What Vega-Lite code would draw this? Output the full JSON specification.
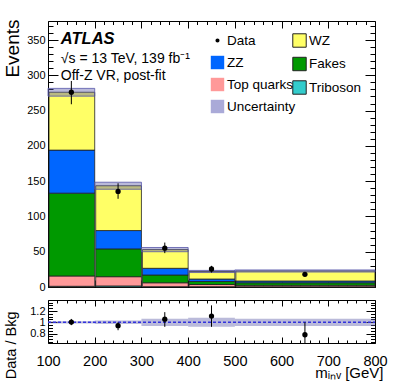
{
  "$schema": "https://vega.github.io/schema/vega-lite/v6.json",
  "background": "white",
  "padding": {"left": 2, "top": 18, "right": 5, "bottom": 2},
  "spacing": 6,
  "config": {
    "view": {"stroke": "black", "strokeWidth": 1},
    "font": "Liberation Sans",
    "axis": {"domain": false, "grid": false, "labelFont": "Liberation Sans", "titleFont": "Liberation Sans", "labelColor": "black", "titleColor": "black", "tickColor": "black", "tickWidth": 1, "titleFontWeight": "normal", "labelFlush": false, "labels": false, "title": null}
  },
  "datasets": {
    "stack": [
      {"lo": 100, "hi": 200, "proc": "Triboson", "ord": 1, "val": 1},
      {"lo": 100, "hi": 200, "proc": "Top quarks", "ord": 2, "val": 14.6},
      {"lo": 100, "hi": 200, "proc": "Fakes", "ord": 3, "val": 117.4},
      {"lo": 100, "hi": 200, "proc": "ZZ", "ord": 4, "val": 61},
      {"lo": 100, "hi": 200, "proc": "WZ", "ord": 5, "val": 82},
      {"lo": 200, "hi": 300, "proc": "Triboson", "ord": 1, "val": 1.5},
      {"lo": 200, "hi": 300, "proc": "Top quarks", "ord": 2, "val": 13.1},
      {"lo": 200, "hi": 300, "proc": "Fakes", "ord": 3, "val": 39.4},
      {"lo": 200, "hi": 300, "proc": "ZZ", "ord": 4, "val": 26},
      {"lo": 200, "hi": 300, "proc": "WZ", "ord": 5, "val": 63.5},
      {"lo": 300, "hi": 400, "proc": "Triboson", "ord": 1, "val": 0.5},
      {"lo": 300, "hi": 400, "proc": "Top quarks", "ord": 2, "val": 5.5},
      {"lo": 300, "hi": 400, "proc": "Fakes", "ord": 3, "val": 11},
      {"lo": 300, "hi": 400, "proc": "ZZ", "ord": 4, "val": 9.5},
      {"lo": 300, "hi": 400, "proc": "WZ", "ord": 5, "val": 26.5},
      {"lo": 400, "hi": 500, "proc": "Triboson", "ord": 1, "val": 0.5},
      {"lo": 400, "hi": 500, "proc": "Top quarks", "ord": 2, "val": 3},
      {"lo": 400, "hi": 500, "proc": "Fakes", "ord": 3, "val": 4.3},
      {"lo": 400, "hi": 500, "proc": "ZZ", "ord": 4, "val": 3.5},
      {"lo": 400, "hi": 500, "proc": "WZ", "ord": 5, "val": 10.7},
      {"lo": 500, "hi": 800, "proc": "Triboson", "ord": 1, "val": 0.4},
      {"lo": 500, "hi": 800, "proc": "Top quarks", "ord": 2, "val": 2.0},
      {"lo": 500, "hi": 800, "proc": "Fakes", "ord": 3, "val": 3.6},
      {"lo": 500, "hi": 800, "proc": "ZZ", "ord": 4, "val": 2.5},
      {"lo": 500, "hi": 800, "proc": "WZ", "ord": 5, "val": 14.2}
    ],
    "band": [
      {"lo": 100, "hi": 200, "dn": 270.5, "up": 281.5},
      {"lo": 200, "hi": 300, "dn": 138.5, "up": 148.5},
      {"lo": 300, "hi": 400, "dn": 50, "up": 56},
      {"lo": 400, "hi": 500, "dn": 20.5, "up": 23.5},
      {"lo": 500, "hi": 800, "dn": 21.2, "up": 24.2}
    ],
    "obs": [
      {"x": 150, "y": 276, "dn": 259, "up": 292},
      {"x": 250, "y": 135.5, "dn": 125, "up": 147},
      {"x": 350, "y": 55, "dn": 48, "up": 63},
      {"x": 450, "y": 25.5, "dn": 20.5, "up": 30},
      {"x": 650, "y": 18, "dn": 16.5, "up": 19.5}
    ],
    "rband": [
      {"lo": 100, "hi": 200, "dn": 0.98, "up": 1.02},
      {"lo": 200, "hi": 300, "dn": 0.97, "up": 1.03},
      {"lo": 300, "hi": 400, "dn": 0.935, "up": 1.065},
      {"lo": 400, "hi": 500, "dn": 0.92, "up": 1.08},
      {"lo": 500, "hi": 800, "dn": 0.935, "up": 1.065}
    ],
    "ratio": [
      {"x": 150, "y": 1.005, "dn": 0.95, "up": 1.06},
      {"x": 250, "y": 0.94, "dn": 0.86, "up": 1.0},
      {"x": 350, "y": 1.055, "dn": 0.92, "up": 1.18},
      {"x": 450, "y": 1.11, "dn": 0.92, "up": 1.3},
      {"x": 650, "y": 0.78, "dn": 0.55, "up": 1.0}
    ],
    "cats": [
      {"cat": "Data"},
      {"cat": "ZZ"},
      {"cat": "Top quarks"},
      {"cat": "Uncertainty"}
    ]
  },
  "vconcat": [
    {
      "width": 327,
      "height": 266,
      "layer": [
        {
          "data": {"name": "stack"},
          "mark": {"type": "bar", "stroke": "#222222", "strokeWidth": 0.8},
          "encoding": {
            "x": {"field": "lo", "type": "quantitative", "bin": "binned", "scale": {"domain": [100, 800], "nice": false, "zero": false},
              "axis": {"orient": "bottom", "values": [100, 200, 300, 400, 500, 600, 700, 800], "tickSize": -7}},
            "x2": {"field": "hi"},
            "y": {"field": "val", "type": "quantitative", "stack": "zero", "scale": {"domain": [0, 377], "nice": false},
              "axis": {"orient": "left", "labels": true, "title": "Events", "titleFontSize": 19, "titleX": -36, "titleY": -2, "titleAlign": "right", "titleAngle": 270, "titleBaseline": "middle", "labelFontSize": 11,
                "values": [0, 50, 100, 150, 200, 250, 300, 350], "tickSize": -10, "labelPadding": 13}},
            "color": {"field": "proc", "type": "nominal",
              "scale": {"domain": ["WZ", "Fakes", "Triboson", "ZZ", "Top quarks"], "range": ["#ffff66", "#009900", "#33cccc", "#0066ff", "#ff9999"]},
              "legend": {"orient": "none", "legendX": 244, "legendY": 12, "values": ["WZ", "Fakes", "Triboson"], "direction": "vertical", "gridAlign": "all", "title": null, "padding": 0, "symbolSize": 180, "symbolType": "square", "labelFontSize": 13.5, "labelFont": "Liberation Sans", "labelColor": "black", "labelOffset": 2, "rowPadding": 4.5, "symbolStrokeWidth": 1}},
            "order": {"field": "ord", "type": "quantitative"}
          }
        },
        {
          "data": {"name": "band"},
          "mark": {"type": "rect", "fill": "#5a5aa8", "fillOpacity": 0.42, "stroke": "#5555aa", "strokeWidth": 0.8},
          "encoding": {
            "x": {"field": "lo", "type": "quantitative", "axis": {"orient": "top", "values": [100, 200, 300, 400, 500, 600, 700, 800], "tickSize": -7}},
            "x2": {"field": "hi"},
            "y": {"field": "dn", "type": "quantitative", "axis": {"orient": "right", "values": [0, 50, 100, 150, 200, 250, 300, 350], "tickSize": -10}},
            "y2": {"field": "up"}
          }
        },
        {
          "data": {"name": "obs"},
          "mark": {"type": "rule", "color": "black", "strokeWidth": 1},
          "encoding": {
            "x": {"field": "x", "type": "quantitative", "axis": {"orient": "bottom", "values": [120,140,160,180,220,240,260,280,320,340,360,380,420,440,460,480,520,540,560,580,620,640,660,680,720,740,760,780], "tickSize": -3.5}},
            "y": {"field": "dn", "type": "quantitative", "axis": {"orient": "left", "values": [10,20,30,40,60,70,80,90,110,120,130,140,160,170,180,190,210,220,230,240,260,270,280,290,310,320,330,340,360,370], "tickSize": -5}},
            "y2": {"field": "up"}
          }
        },
        {
          "data": {"name": "obs"},
          "mark": {"type": "point", "filled": true, "color": "black", "size": 28, "opacity": 1},
          "encoding": {
            "x": {"field": "x", "type": "quantitative", "axis": {"orient": "top", "values": [120,140,160,180,220,240,260,280,320,340,360,380,420,440,460,480,520,540,560,580,620,640,660,680,720,740,760,780], "tickSize": -3.5}},
            "y": {"field": "y", "type": "quantitative", "axis": {"orient": "right", "values": [10,20,30,40,60,70,80,90,110,120,130,140,160,170,180,190,210,220,230,240,260,270,280,290,310,320,330,340,360,370], "tickSize": -5}}
          }
        },
        {
          "data": {"values": [{}]},
          "mark": {"type": "text", "text": "ATLAS", "font": "Liberation Sans", "fontSize": 16.5, "fontWeight": "bold", "fontStyle": "italic", "align": "left", "baseline": "alphabetic", "color": "black"},
          "encoding": {
            "x": {"datum": 127.5, "type": "quantitative", "axis": null},
            "y": {"datum": 344, "type": "quantitative", "axis": null}
          }
        },
        {
          "data": {"values": [{}]},
          "mark": {"type": "text", "text": "√s = 13 TeV, 139 fb⁻¹", "font": "Liberation Sans", "fontSize": 14, "align": "left", "baseline": "alphabetic", "color": "black"},
          "encoding": {
            "x": {"datum": 127.5, "type": "quantitative", "axis": null},
            "y": {"datum": 318, "type": "quantitative", "axis": null}
          }
        },
        {
          "data": {"values": [{}]},
          "mark": {"type": "text", "text": "Off-Z VR, post-fit", "font": "Liberation Sans", "fontSize": 14, "align": "left", "baseline": "alphabetic", "color": "black"},
          "encoding": {
            "x": {"datum": 127.5, "type": "quantitative", "axis": null},
            "y": {"datum": 293, "type": "quantitative", "axis": null}
          }
        },
        {
          "data": {"name": "cats"},
          "mark": {"type": "point", "filled": false, "opacity": 0, "stroke": "#222222", "strokeWidth": 0.8},
          "encoding": {
            "fill": {"field": "cat", "type": "nominal",
              "scale": {"domain": ["Data", "ZZ", "Top quarks", "Uncertainty"], "range": ["#000000", "#0066ff", "#ff9999", "#aaaad8"]},
              "legend": {"orient": "none", "legendX": 162, "legendY": 12, "direction": "vertical", "gridAlign": "all", "title": null, "padding": 0, "symbolSize": 180, "symbolOpacity": 1, "symbolStrokeColor": "#222222", "symbolStrokeWidth": 0.8, "labelFontSize": 13.5, "labelFont": "Liberation Sans", "labelColor": "black", "labelOffset": 2, "rowPadding": 5}},
            "shape": {"field": "cat", "type": "nominal",
              "scale": {"domain": ["Data", "ZZ", "Top quarks", "Uncertainty"], "range": ["M-0.3,0A0.3,0.3,0,1,1,0.3,0A0.3,0.3,0,1,1,-0.3,0Z", "square", "square", "square"]},
              "legend": {"orient": "none", "legendX": 162, "legendY": 12, "direction": "vertical", "gridAlign": "all", "title": null, "padding": 0, "symbolSize": 180, "symbolOpacity": 1, "symbolStrokeColor": "#222222", "symbolStrokeWidth": 0.8, "labelFontSize": 13.5, "labelFont": "Liberation Sans", "labelColor": "black", "labelOffset": 2, "rowPadding": 5}}
          }
        }
      ],
      "resolve": {"axis": {"x": "independent", "y": "independent"}}
    },
    {
      "width": 327,
      "height": 43,
      "layer": [
        {
          "data": {"name": "rband"},
          "mark": {"type": "rect", "fill": "#5a5aa8", "fillOpacity": 0.42, "strokeWidth": 0},
          "encoding": {
            "x": {"field": "lo", "type": "quantitative", "scale": {"domain": [100, 800], "nice": false, "zero": false},
              "axis": {"orient": "bottom", "labels": true, "title": "mᵢₙᵥ [GeV]", "titleFontSize": 15, "titleAnchor": "end", "titleAlign": "right", "titleX": 335, "titleY": 34, "titleBaseline": "alphabetic", "labelFontSize": 14.5, "labelPadding": 17,
                "values": [100, 200, 300, 400, 500, 600, 700, 800], "tickSize": -6}},
            "x2": {"field": "hi"},
            "y": {"field": "dn", "type": "quantitative", "scale": {"domain": [0.634, 1.395], "nice": false, "zero": false},
              "axis": {"orient": "left", "labels": true, "title": "Data / Bkg", "titleFontSize": 14.5, "titleX": -37, "titleY": 11, "titleAlign": "right", "titleAngle": 270, "titleBaseline": "middle", "labelFontSize": 11, "format": "~g",
                "values": [0.8, 1, 1.2], "tickSize": -9, "labelPadding": 12}},
            "y2": {"field": "up"}
          }
        },
        {
          "data": {"values": [{}]},
          "mark": {"type": "rule", "color": "#3333dd", "strokeWidth": 1.5, "strokeDash": [3, 2]},
          "encoding": {
            "x": {"datum": 100, "type": "quantitative", "axis": {"orient": "top", "values": [100, 200, 300, 400, 500, 600, 700, 800], "tickSize": -6}},
            "x2": {"datum": 800},
            "y": {"datum": 1, "type": "quantitative", "axis": {"orient": "right", "values": [0.8, 1, 1.2], "tickSize": -9}}
          }
        },
        {
          "data": {"name": "ratio"},
          "mark": {"type": "rule", "color": "black", "strokeWidth": 1, "clip": true},
          "encoding": {
            "x": {"field": "x", "type": "quantitative", "axis": {"orient": "bottom", "values": [120,140,160,180,220,240,260,280,320,340,360,380,420,440,460,480,520,540,560,580,620,640,660,680,720,740,760,780], "tickSize": -3}},
            "y": {"field": "dn", "type": "quantitative", "axis": {"orient": "left", "values": [0.65, 0.7, 0.75, 0.85, 0.9, 0.95, 1.05, 1.1, 1.15, 1.25, 1.3, 1.35], "tickSize": -4.5}},
            "y2": {"field": "up"}
          }
        },
        {
          "data": {"name": "ratio"},
          "mark": {"type": "point", "filled": true, "color": "black", "size": 28, "opacity": 1},
          "encoding": {
            "x": {"field": "x", "type": "quantitative", "axis": {"orient": "top", "values": [120,140,160,180,220,240,260,280,320,340,360,380,420,440,460,480,520,540,560,580,620,640,660,680,720,740,760,780], "tickSize": -3}},
            "y": {"field": "y", "type": "quantitative", "axis": {"orient": "right", "values": [0.65, 0.7, 0.75, 0.85, 0.9, 0.95, 1.05, 1.1, 1.15, 1.25, 1.3, 1.35], "tickSize": -4.5}}
          }
        }
      ],
      "resolve": {"axis": {"x": "independent", "y": "independent"}}
    }
  ]
}
